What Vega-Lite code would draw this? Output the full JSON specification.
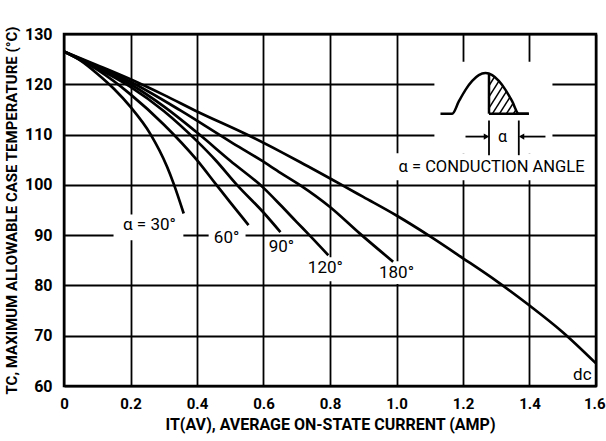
{
  "$schema": "https://vega.github.io/schema/vega-lite/v6.json",
  "width": 532,
  "height": 352,
  "autosize": "none",
  "padding": {"left": 64, "top": 34, "right": 10, "bottom": 55},
  "background": "white",
  "config": {
    "font": "Roboto, Liberation Sans, sans-serif",
    "view": {"stroke": "black", "strokeWidth": 2.5},
    "axis": {
      "domain": false,
      "grid": true,
      "gridColor": "black",
      "gridOpacity": 1,
      "gridWidth": 1.8,
      "ticks": false,
      "labelColor": "black",
      "labelFontWeight": "bold",
      "labelFontSize": 16,
      "titleColor": "black",
      "titleFontWeight": "bold"
    }
  },
  "datasets": {
    "curves": [
      {"curve": "30", "I": 0, "T": 126.5}, {"curve": "30", "I": 0.05, "T": 124.7}, {"curve": "30", "I": 0.1, "T": 122.1}, {"curve": "30", "I": 0.15, "T": 119.1}, {"curve": "30", "I": 0.2, "T": 115.5}, {"curve": "30", "I": 0.26, "T": 110.1}, {"curve": "30", "I": 0.31, "T": 103.6}, {"curve": "30", "I": 0.33, "T": 100.2}, {"curve": "30", "I": 0.36, "T": 94.3},
      {"curve": "60", "I": 0, "T": 126.5}, {"curve": "60", "I": 0.1, "T": 122.9}, {"curve": "60", "I": 0.2, "T": 118.0}, {"curve": "60", "I": 0.3, "T": 112.0}, {"curve": "60", "I": 0.4, "T": 104.9}, {"curve": "60", "I": 0.456, "T": 100.2}, {"curve": "60", "I": 0.5, "T": 96.5}, {"curve": "60", "I": 0.555, "T": 92.0},
      {"curve": "90", "I": 0, "T": 126.5}, {"curve": "90", "I": 0.1, "T": 123.2}, {"curve": "90", "I": 0.2, "T": 119.5}, {"curve": "90", "I": 0.3, "T": 114.7}, {"curve": "90", "I": 0.4, "T": 108.7}, {"curve": "90", "I": 0.456, "T": 104.9}, {"curve": "90", "I": 0.52, "T": 100.0}, {"curve": "90", "I": 0.6, "T": 94.5}, {"curve": "90", "I": 0.651, "T": 90.6},
      {"curve": "120", "I": 0, "T": 126.5}, {"curve": "120", "I": 0.1, "T": 123.4}, {"curve": "120", "I": 0.2, "T": 120.0}, {"curve": "120", "I": 0.3, "T": 115.6}, {"curve": "120", "I": 0.4, "T": 110.4}, {"curve": "120", "I": 0.5, "T": 104.8}, {"curve": "120", "I": 0.6, "T": 99.4}, {"curve": "120", "I": 0.651, "T": 96.0}, {"curve": "120", "I": 0.7, "T": 92.6}, {"curve": "120", "I": 0.738, "T": 90.0}, {"curve": "120", "I": 0.795, "T": 86.0},
      {"curve": "180", "I": 0, "T": 126.5}, {"curve": "180", "I": 0.1, "T": 123.6}, {"curve": "180", "I": 0.2, "T": 120.5}, {"curve": "180", "I": 0.35, "T": 114.8}, {"curve": "180", "I": 0.5, "T": 108.6}, {"curve": "180", "I": 0.59, "T": 105.0}, {"curve": "180", "I": 0.651, "T": 102.4}, {"curve": "180", "I": 0.711, "T": 99.9}, {"curve": "180", "I": 0.8, "T": 95.6}, {"curve": "180", "I": 0.89, "T": 90.3}, {"curve": "180", "I": 0.99, "T": 84.7},
      {"curve": "dc", "I": 0, "T": 126.5}, {"curve": "dc", "I": 0.1, "T": 123.8}, {"curve": "dc", "I": 0.2, "T": 121.0}, {"curve": "dc", "I": 0.3, "T": 117.9}, {"curve": "dc", "I": 0.4, "T": 114.6}, {"curve": "dc", "I": 0.55, "T": 110.0}, {"curve": "dc", "I": 0.651, "T": 106.6}, {"curve": "dc", "I": 0.711, "T": 104.5}, {"curve": "dc", "I": 0.835, "T": 100.0}, {"curve": "dc", "I": 0.9, "T": 97.6}, {"curve": "dc", "I": 1.0, "T": 93.9}, {"curve": "dc", "I": 1.1, "T": 89.8}, {"curve": "dc", "I": 1.2, "T": 85.4}, {"curve": "dc", "I": 1.3, "T": 80.9}, {"curve": "dc", "I": 1.4, "T": 76.0}, {"curve": "dc", "I": 1.5, "T": 70.7}, {"curve": "dc", "I": 1.6, "T": 64.5}
    ],
    "boxes": [
      {"I1": 0.149, "I2": 0.359, "T1": 89.0, "T2": 94.1},
      {"I1": 0.435, "I2": 0.546, "T1": 87.4, "T2": 91.8},
      {"I1": 0.729, "I2": 0.85, "T1": 80.85, "T2": 85.6},
      {"I1": 0.934, "I2": 1.066, "T1": 80.3, "T2": 84.8},
      {"I1": 1.114, "I2": 1.469, "T1": 106.27, "T2": 124.5},
      {"I1": 0.982, "I2": 1.583, "T1": 100.9, "T2": 106.27}
    ],
    "wave": [
      {"I": 1.1323, "T": 114.15}, {"I": 1.1675, "T": 114.15}, {"I": 1.1877, "T": 116.64}, {"I": 1.2075, "T": 118.9}, {"I": 1.2277, "T": 120.67}, {"I": 1.2475, "T": 121.82}, {"I": 1.2677, "T": 122.22}, {"I": 1.2878, "T": 121.82}, {"I": 1.3077, "T": 120.67}, {"I": 1.3278, "T": 118.9}, {"I": 1.3477, "T": 116.64}, {"I": 1.3678, "T": 114.15}, {"I": 1.3979, "T": 114.15}
    ],
    "segs": [
      {"I1": 1.2782, "I2": 1.3979, "T1": 114.15, "T2": 114.15, "w": 2.5},
      {"I1": 1.2782, "I2": 1.2782, "T1": 114.15, "T2": 122.12, "w": 2.5},
      {"I1": 1.2767, "I2": 1.2947, "T1": 119.56, "T2": 121.48, "w": 1.5},
      {"I1": 1.2767, "I2": 1.3083, "T1": 117.33, "T2": 120.67, "w": 1.5},
      {"I1": 1.2767, "I2": 1.3203, "T1": 115.11, "T2": 119.67, "w": 1.5},
      {"I1": 1.2887, "I2": 1.3308, "T1": 114.15, "T2": 118.58, "w": 1.5},
      {"I1": 1.3098, "I2": 1.3414, "T1": 114.15, "T2": 117.45, "w": 1.5},
      {"I1": 1.3308, "I2": 1.3513, "T1": 114.15, "T2": 116.28, "w": 1.5},
      {"I1": 1.3519, "I2": 1.3609, "T1": 114.15, "T2": 115.09, "w": 1.5},
      {"I1": 1.2075, "I2": 1.2707, "T1": 109.6, "T2": 109.6, "w": 1.8},
      {"I1": 1.376, "I2": 1.448, "T1": 109.6, "T2": 109.6, "w": 1.8},
      {"I1": 1.2782, "I2": 1.2782, "T1": 112.8, "T2": 105.9, "w": 1.8},
      {"I1": 1.3678, "I2": 1.3678, "T1": 112.8, "T2": 105.9, "w": 1.8}
    ],
    "heads": [
      {"I": 1.2707, "T": 109.6, "shape": "triangle-right"},
      {"I": 1.376, "T": 109.6, "shape": "triangle-left"}
    ],
    "labels": [
      {"I": 0.257, "T": 92.0, "text": "α = 30°", "size": 17},
      {"I": 0.489, "T": 89.4, "text": "60°", "size": 17},
      {"I": 0.654, "T": 87.6, "text": "90°", "size": 17},
      {"I": 0.786, "T": 83.4, "text": "120°", "size": 17},
      {"I": 1.0, "T": 82.5, "text": "180°", "size": 17},
      {"I": 1.559, "T": 62.2, "text": "dc", "size": 17},
      {"I": 1.286, "T": 103.5, "text": "α = CONDUCTION ANGLE", "size": 16.5},
      {"I": 1.3188, "T": 109.45, "text": "α", "size": 16}
    ]
  },
  "layer": [
    {
      "data": {"name": "boxes"},
      "mark": {"type": "rect", "fill": "white", "stroke": null},
      "encoding": {
        "x": {"field": "I1", "type": "quantitative", "scale": {"domain": [0, 1.6], "nice": false, "zero": false},
          "axis": {"values": [0, 0.2, 0.4, 0.6, 0.8, 1.0, 1.2, 1.4, 1.6], "labelExpr": "datum.value == 0 ? '0' : format(datum.value, '.1f')", "labelFontSize": 15, "labelPadding": 10, "labelFlush": false,
            "labelAlign": {"condition": {"test": "datum.value == 1.6", "value": "right"}, "value": "center"},
            "labelOffset": {"condition": {"test": "datum.value == 1.6", "value": 9}, "value": 0},
            "title": "IT(AV), AVERAGE ON-STATE CURRENT (AMP)", "titleFontSize": 16, "titlePadding": 5}},
        "x2": {"field": "I2"},
        "y": {"field": "T1", "type": "quantitative", "scale": {"domain": [60, 130], "nice": false, "zero": false},
          "axis": {"values": [60, 70, 80, 90, 100, 110, 120, 130], "labelPadding": 12, "labelFlush": false, "title": "TC, MAXIMUM ALLOWABLE CASE TEMPERATURE (°C)", "titleFontSize": 15, "titlePadding": 5}},
        "y2": {"field": "T2"}
      }
    },
    {
      "data": {"name": "curves"},
      "mark": {"type": "line", "color": "black", "strokeWidth": 2.7, "interpolate": "monotone"},
      "encoding": {
        "x": {"field": "I", "type": "quantitative"},
        "y": {"field": "T", "type": "quantitative"},
        "detail": {"field": "curve", "type": "nominal"}
      }
    },
    {
      "data": {"name": "wave"},
      "mark": {"type": "line", "color": "black", "strokeWidth": 2.5, "interpolate": "monotone"},
      "encoding": {
        "x": {"field": "I", "type": "quantitative"},
        "y": {"field": "T", "type": "quantitative"}
      }
    },
    {
      "data": {"name": "segs"},
      "mark": {"type": "rule", "color": "black"},
      "encoding": {
        "x": {"field": "I1", "type": "quantitative"},
        "x2": {"field": "I2"},
        "y": {"field": "T1", "type": "quantitative"},
        "y2": {"field": "T2"},
        "strokeWidth": {"field": "w", "type": "quantitative", "scale": null}
      }
    },
    {
      "data": {"name": "heads"},
      "mark": {"type": "point", "filled": true, "color": "black", "size": 40, "opacity": 1},
      "encoding": {
        "x": {"field": "I", "type": "quantitative"},
        "y": {"field": "T", "type": "quantitative"},
        "shape": {"field": "shape", "type": "nominal", "scale": null}
      }
    },
    {
      "data": {"name": "labels"},
      "mark": {"type": "text", "color": "black", "align": "center", "baseline": "middle"},
      "encoding": {
        "x": {"field": "I", "type": "quantitative"},
        "y": {"field": "T", "type": "quantitative"},
        "text": {"field": "text", "type": "nominal"},
        "size": {"field": "size", "type": "quantitative", "scale": null}
      }
    }
  ]
}
